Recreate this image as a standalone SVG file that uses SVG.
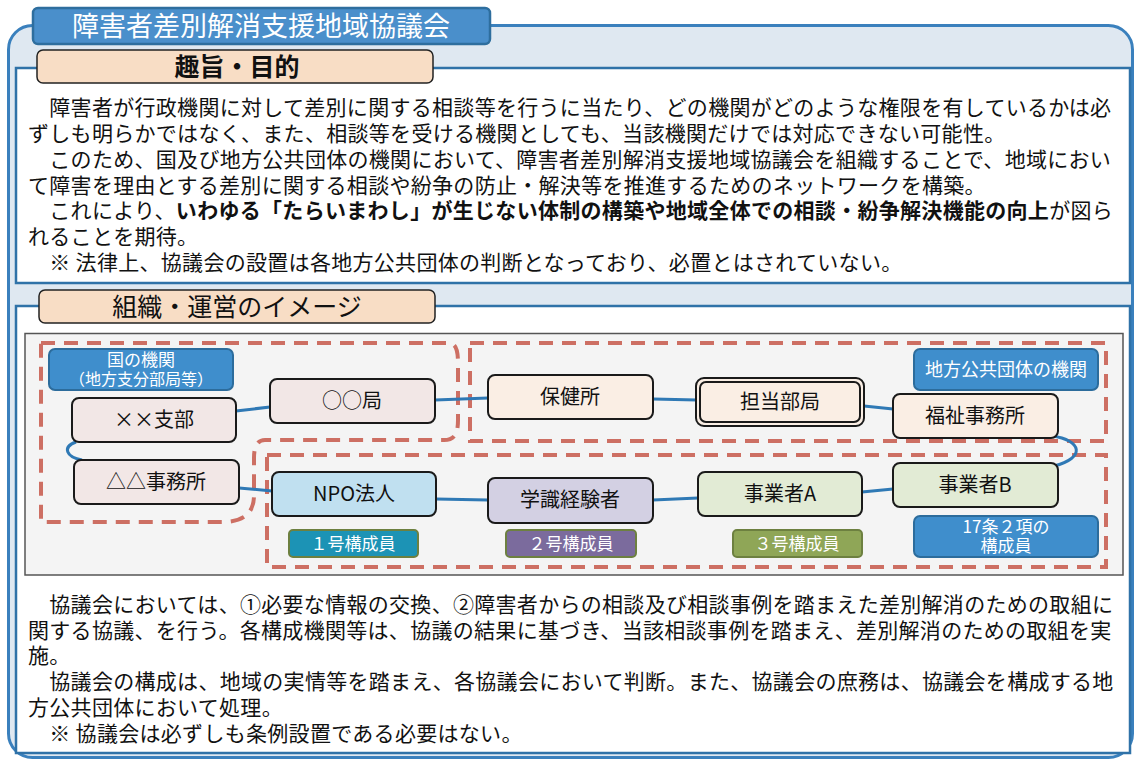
<svg xmlns="http://www.w3.org/2000/svg" width="1134" height="760" viewBox="0 0 1134 760">
<style>
text{font-family:"Noto Sans CJK JP","Noto Sans",sans-serif;}
.body{font-size:21px;fill:#111;letter-spacing:0.3px;}
.node rect.box{stroke:#1a1a1a;stroke-width:2;}
.ntxt{font-size:20px;fill:#111;text-anchor:middle;}
.lbl{fill:#3f8ecc;stroke:#2c6c9c;stroke-width:2;}
.ltxt{font-size:16px;fill:#fff;text-anchor:middle;}
.ltxt.big{font-size:18px;}
.mem{stroke:#6d8040;stroke-width:2;}
.mtxt{font-size:17px;fill:#fff;text-anchor:middle;}
.dash{fill:none;stroke:#cd6f63;stroke-width:4;stroke-dasharray:14 9;}
.conn{fill:none;stroke:#2f79b5;stroke-width:3;}
.pink{fill:#f2e7e6;}
.peach{fill:#faeee4;}
</style>
<rect width="1134" height="760" fill="#ffffff"/>
<rect x="8.5" y="25.5" width="1124" height="732" rx="24" fill="#dfe8f1" stroke="#3a80bd" stroke-width="3"/>
<rect x="16" y="68" width="1114" height="215" fill="#ffffff" stroke="#2f72a8" stroke-width="2.5"/>
<rect x="16" y="306" width="1114" height="447" fill="#ffffff" stroke="#2f72a8" stroke-width="2.5"/>
<g id="title">
<rect x="33" y="8" width="457" height="36" rx="5" fill="#4a8fcb" stroke="#2e6e9e" stroke-width="2.5"/>
<text x="261" y="36" font-size="27" fill="#ffffff" text-anchor="middle">障害者差別解消支援地域協議会</text>
</g>
<g id="tab-purpose">
<rect x="37" y="50" width="396" height="33" rx="6" fill="#f8ddc5" stroke="#222" stroke-width="1.5"/>
<text x="237" y="76" font-size="25" font-weight="bold" fill="#111" text-anchor="middle">趣旨・目的</text>
</g>
<g id="purpose-text">
<text class="body"><tspan x="28" y="115">　障害者が行政機関に対して差別に関する相談等を行うに当たり、どの機関がどのような権限を有しているかは必</tspan><tspan x="28" y="141">ずしも明らかではなく、また、相談等を受ける機関としても、当該機関だけでは対応できない可能性。</tspan><tspan x="28" y="167">　このため、国及び地方公共団体の機関において、障害者差別解消支援地域協議会を組織することで、地域におい</tspan><tspan x="28" y="193">て障害を理由とする差別に関する相談や紛争の防止・解決等を推進するためのネットワークを構築。</tspan><tspan x="28" y="218">　これにより、</tspan><tspan font-weight="bold">いわゆる「たらいまわし」が生じない体制の構築や地域全体での相談・紛争解決機能の向上</tspan><tspan>が図ら</tspan><tspan x="28" y="244">れることを期待。</tspan><tspan x="28" y="270">　※ 法律上、協議会の設置は各地方公共団体の判断となっており、必置とはされていない。</tspan></text>
</g>
<g id="tab-image">
<rect x="39" y="290" width="396" height="33" rx="6" fill="#f8ddc5" stroke="#222" stroke-width="1.5"/>
<text x="237" y="316" font-size="25" fill="#111" text-anchor="middle">組織・運営のイメージ</text>
</g>
<rect x="25" y="333.5" width="1098" height="241.5" fill="#f4f4f4" stroke="#555" stroke-width="1.5"/>
<g id="groups">
<path class="dash" d="M41,343 H448 C457,343 458,352 458,365 V420 C458,433 455,440 444,440 H265 C257,440 254,447 254,458 V495 C254,512 245,522 222,522 H41 Z"/>
<rect class="dash" x="470" y="343" width="636" height="98"/>
<rect class="dash" x="267" y="455" width="839" height="112"/>
</g>
<g id="connectors">
<path class="conn" d="M236,411 L270,407"/>
<path class="conn" d="M76,442 C62,447 66,457 82,460"/>
<path class="conn" d="M239,488 L272,491"/>
<path class="conn" d="M435,400 L488,398"/>
<path class="conn" d="M436,499 L488,500"/>
<path class="conn" d="M653,399 L697,400"/>
<path class="conn" d="M864,406 L893,409"/>
<path class="conn" d="M1052,436 C1082,440 1086,458 1054,466"/>
<path class="conn" d="M653,500 L698,498"/>
<path class="conn" d="M862,492 L893,489"/>
</g>
<g id="label-kuni"><rect class="lbl" x="49" y="349" width="184" height="41" rx="6"/>
<text class="ltxt"><tspan x="141" y="366" style="font-size:17px">国の機関</tspan><tspan x="141" y="385">（地方支分部局等）</tspan></text></g>
<g id="node-shibu" class="node"><rect class="box pink" x="72" y="398" width="164" height="44" rx="7"/><text class="ntxt" x="154" y="427">××支部</text></g>
<g id="node-jimusho" class="node"><rect class="box pink" x="74" y="460" width="165" height="44" rx="7"/><text class="ntxt" x="156" y="489">△△事務所</text></g>
<g id="node-kyoku" class="node"><rect class="box pink" x="270" y="379" width="165" height="44" rx="7"/><text class="ntxt" x="352" y="408">○○局</text></g>
<g id="node-npo" class="node"><rect class="box" fill="#c0e0f0" x="272" y="472" width="164" height="44" rx="7"/><text class="ntxt" x="354" y="501">NPO法人</text></g>
<g id="mem-1"><rect class="mem" fill="#1c93b5" x="289" y="530" width="129" height="27" rx="4"/><text class="mtxt" x="353" y="550">１号構成員</text></g>
<g id="node-hokenjo" class="node"><rect class="box peach" x="488" y="375" width="165" height="44" rx="7"/><text class="ntxt" x="570" y="404">保健所</text></g>
<g id="node-tanto" class="node"><rect class="box peach" x="696" y="378" width="168" height="48" rx="8"/><rect x="700" y="382" width="160" height="40" rx="6" fill="none" stroke="#1a1a1a" stroke-width="2"/><text class="ntxt" x="780" y="409">担当部局</text></g>
<g id="node-fukushi" class="node"><rect class="box peach" x="893" y="394" width="165" height="44" rx="7"/><text class="ntxt" x="975" y="423">福祉事務所</text></g>
<g id="label-chiho"><rect class="lbl" x="914" y="349" width="184" height="41" rx="6"/><text class="ltxt big" x="1006" y="376">地方公共団体の機関</text></g>
<g id="node-gakushiki" class="node"><rect class="box" fill="#d3d0e3" x="488" y="478" width="165" height="45" rx="7"/><text class="ntxt" x="570" y="507">学識経験者</text></g>
<g id="mem-2"><rect class="mem" fill="#7b6b9d" x="506" y="530" width="130" height="27" rx="4"/><text class="mtxt" x="571" y="550">２号構成員</text></g>
<g id="node-jigyoA" class="node"><rect class="box" fill="#e2ebd5" x="698" y="472" width="164" height="44" rx="7"/><text class="ntxt" x="780" y="501">事業者A</text></g>
<g id="mem-3"><rect class="mem" fill="#8fa657" x="733" y="530" width="129" height="27" rx="4"/><text class="mtxt" x="797" y="550">３号構成員</text></g>
<g id="node-jigyoB" class="node"><rect class="box" fill="#e2ebd5" x="893" y="463" width="165" height="44" rx="7"/><text class="ntxt" x="975" y="492">事業者B</text></g>
<g id="label-17"><rect class="lbl" x="914" y="516" width="184" height="41" rx="6"/><text class="ltxt" style="font-size:17px"><tspan x="1006" y="533">17条２項の</tspan><tspan x="1006" y="552">構成員</tspan></text></g>
<g id="image-text">
<text class="body"><tspan x="28" y="612">　協議会においては、①必要な情報の交換、②障害者からの相談及び相談事例を踏まえた差別解消のための取組に</tspan><tspan x="28" y="638">関する協議、を行う。各構成機関等は、協議の結果に基づき、当該相談事例を踏まえ、差別解消のための取組を実</tspan><tspan x="28" y="663">施。</tspan><tspan x="28" y="689">　協議会の構成は、地域の実情等を踏まえ、各協議会において判断。また、協議会の庶務は、協議会を構成する地</tspan><tspan x="28" y="715">方公共団体において処理。</tspan><tspan x="28" y="741">　※ 協議会は必ずしも条例設置である必要はない。</tspan></text>
</g>
</svg>
